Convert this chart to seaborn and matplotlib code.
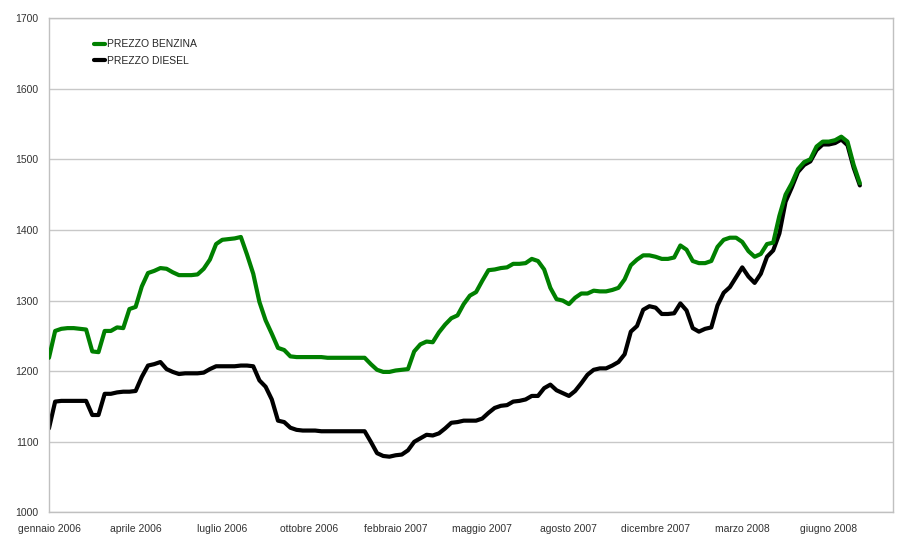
import matplotlib
matplotlib.use('Agg')
import pandas as pd
import matplotlib.pyplot as plt
import seaborn as sns

# prezzi settimanali (euro / 1000 litri)
benzina = [1219, 1257, 1260, 1261, 1261, 1260, 1259, 1228, 1227, 1257,
           1257, 1262, 1261, 1288, 1291, 1320, 1339, 1342, 1346, 1345,
           1340, 1336, 1336, 1336, 1337, 1345, 1358, 1380, 1386, 1387,
           1388, 1390, 1365, 1338, 1298, 1272, 1253, 1233, 1230, 1221,
           1220, 1220, 1220, 1220, 1220, 1219, 1219, 1219, 1219, 1219,
           1219, 1219, 1210, 1202, 1199, 1199, 1201, 1202, 1203, 1228,
           1238, 1242, 1241, 1255, 1266, 1275, 1279, 1295, 1307, 1312,
           1328, 1343, 1344, 1346, 1347, 1352, 1352, 1353, 1359, 1356,
           1344, 1318, 1302, 1300, 1295, 1304, 1310, 1310, 1314, 1313,
           1313, 1315, 1318, 1330, 1350, 1358, 1364, 1364, 1362, 1359,
           1359, 1361, 1378, 1372, 1356, 1353, 1353, 1356, 1376, 1386,
           1389, 1389, 1383, 1370, 1362, 1366, 1380, 1382, 1420, 1450,
           1466, 1486, 1496, 1500, 1518, 1525, 1525, 1527, 1532, 1525,
           1492, 1466]

diesel = [1119, 1157, 1158, 1158, 1158, 1158, 1158, 1138, 1138, 1168,
          1168, 1170, 1171, 1171, 1172, 1192, 1208, 1210, 1213, 1203,
          1199, 1196, 1197, 1197, 1197, 1198, 1203, 1207, 1207, 1207,
          1207, 1208, 1208, 1207, 1187, 1178, 1160, 1130, 1128, 1120,
          1117, 1116, 1116, 1116, 1115, 1115, 1115, 1115, 1115, 1115,
          1115, 1115, 1100, 1084, 1080, 1079, 1081, 1082, 1088, 1100,
          1105, 1110, 1109, 1112, 1119, 1127, 1128, 1130, 1130, 1130,
          1133, 1141, 1148, 1151, 1152, 1157, 1158, 1160, 1165, 1165,
          1176, 1181, 1173, 1169, 1165, 1172, 1183, 1195, 1202, 1204,
          1204, 1208, 1213, 1224, 1256, 1264, 1287, 1292, 1290, 1281,
          1281, 1282, 1296, 1286, 1261, 1256, 1260, 1262, 1293, 1311,
          1319, 1333, 1347, 1334, 1325, 1338, 1362, 1371, 1395, 1440,
          1460, 1482, 1492, 1497, 1513, 1521, 1521, 1523, 1528, 1520,
          1488, 1463]

tick_labels = ['gennaio 2006', 'aprile 2006', 'luglio 2006', 'ottobre 2006',
               'febbraio 2007', 'maggio 2007', 'agosto 2007', 'dicembre 2007',
               'marzo 2008', 'giugno 2008']
tick_step = 14

df = pd.DataFrame({'settimana': range(len(benzina)),
                   'PREZZO BENZINA': benzina,
                   'PREZZO DIESEL': diesel})
df = df.melt(id_vars='settimana', var_name='serie', value_name='prezzo')

sns.set_style('white')
plt.rcParams['font.family'] = ['Liberation Sans', 'DejaVu Sans']

fig = plt.figure(figsize=(9, 5.59), dpi=100)
ax = fig.add_axes([0.0544, 0.0832, 0.9378, 0.8846])

sns.lineplot(data=df, x='settimana', y='prezzo', hue='serie',
             palette={'PREZZO BENZINA': '#008000', 'PREZZO DIESEL': '#000000'},
             linewidth=3, ax=ax)
ax.lines[0].set_zorder(3)

ax.set_xlim(0, 136.35)
ax.set_ylim(1000, 1700)
ax.set_yticks(range(1000, 1701, 100))
ax.set_xticks(range(0, tick_step * len(tick_labels), tick_step))
ax.set_xticklabels(tick_labels)
ax.set_xlabel('')
ax.set_ylabel('')

ax.yaxis.grid(True, color='#c8c8c8', linewidth=1)
ax.set_axisbelow(True)
for sp in ax.spines.values():
    sp.set_color('#c0c0c0')
    sp.set_linewidth(1)
ax.tick_params(axis='both', length=4, width=1, color='#c0c0c0',
               labelsize=7.5, labelcolor='#333333', direction='out')
ax.tick_params(axis='x', pad=4)

ax.legend(loc='upper left', bbox_to_anchor=(0.048, 0.965), frameon=False,
          fontsize=7.5, handlelength=1.1, handletextpad=0.2,
          labelspacing=0.6, borderaxespad=0)

fig.savefig('out.png', dpi=100)
